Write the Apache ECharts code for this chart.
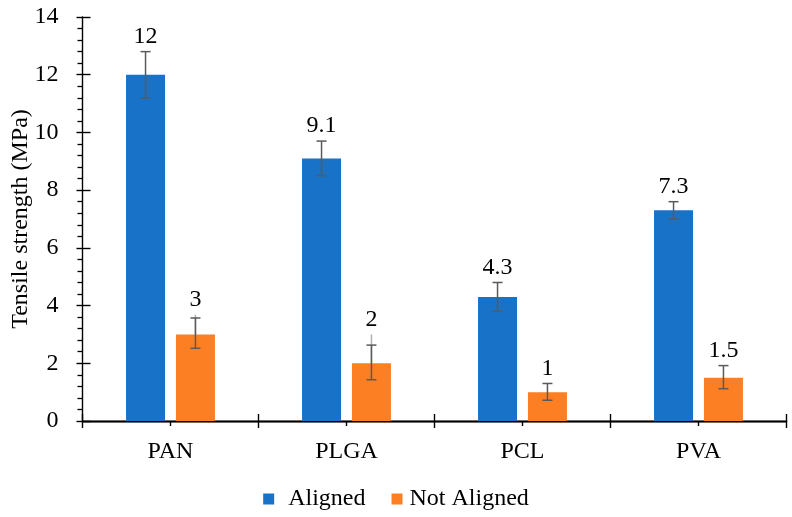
<!DOCTYPE html>
<html>
<head>
<meta charset="utf-8">
<script src="https://cdn.jsdelivr.net/npm/echarts@6/dist/echarts.min.js"></script>
<style>html,body{margin:0;padding:0;background:#fff}#c{width:792px;height:517px}</style>
</head>
<body>
<div id="c"></div>
<script>
const categories = ['PAN', 'PLGA', 'PCL', 'PVA'];
const aligned = [12, 9.1, 4.3, 7.3];
const notAligned = [3, 2, 1, 1.5];
const alignedErrLow = [0.8, 0.6, 0.5, 0.3];
const alignedErrHigh = [0.8, 0.6, 0.5, 0.3];
const notAlignedErrLow = [0.48, 0.57, 0.28, 0.38];
const notAlignedErrHigh = [0.57, 0.63, 0.3, 0.42];
const notAlignedTailTop = [3.68, 3.0, null, null];
const yTicks = [0, 2, 4, 6, 8, 10, 12, 14];

const FONT = '"Liberation Serif", "Times New Roman", serif';
const FS = 24;
const BLUE = '#1872C8';
const ORANGE = '#FD7F23';

function errData(vals, lo, hi, tail) {
  return vals.map((v, i) => [i, v, v - lo[i], v + hi[i], tail && tail[i] != null ? tail[i] : v + hi[i]]);
}

function errRender(offsetFrac) {
  return function (params, api) {
    const cat = api.value(0);
    const catW = api.size([1, 0])[0];
    const x = api.coord([cat, 0])[0] + offsetFrac * catW;
    const yv = api.coord([cat, api.value(1)])[1];
    const yLo = api.coord([cat, api.value(2)])[1];
    const yHi = api.coord([cat, api.value(3)])[1];
    const yTail = api.coord([cat, api.value(4)])[1];
    const cap = 5;
    const dark = '#5a5a5a';
    const children = [];
    if (yTail < yHi - 0.5) {
      children.push({type: 'line', shape: {x1: x, y1: yTail, x2: x, y2: yv}, style: {stroke: '#b0b0b0', lineWidth: 1.5}});
    }
    children.push({type: 'line', shape: {x1: x, y1: yHi, x2: x, y2: yLo}, style: {stroke: dark, lineWidth: 1.5}});
    children.push({type: 'line', shape: {x1: x - cap, y1: yHi, x2: x + cap, y2: yHi}, style: {stroke: dark, lineWidth: 1.5}});
    children.push({type: 'line', shape: {x1: x - cap, y1: yLo, x2: x + cap, y2: yLo}, style: {stroke: dark, lineWidth: 1.5}});
    const top = Math.min(yHi, yTail);
    children.push({type: 'text', x: x, y: top - 3, style: {text: String(api.value(1)), fill: '#000', font: FS + 'px ' + FONT, textAlign: 'center', textVerticalAlign: 'bottom'}});
    return {type: 'group', children: children};
  };
}

const chart = echarts.init(document.getElementById('c'));
const baseX = {
  type: 'category', data: categories, boundaryGap: true, position: 'bottom',
  axisLine: {show: true, lineStyle: {color: '#000', width: 1.4}}
};
chart.setOption({
  animation: false,
  backgroundColor: '#fff',
  grid: {left: 82.5, right: 5.5, top: 17, bottom: 96, containLabel: false, outerBoundsMode: 'none'},
  legend: {
    data: ['Aligned', 'Not Aligned'], left: 'center', top: 482,
    icon: 'rect', itemWidth: 11, itemHeight: 11, itemGap: 26,
    formatter: function (n) { return n === 'Aligned' ? '{a|' + n + '}' : '{b|' + n + '}'; },
    textStyle: {
      fontFamily: FONT, fontSize: FS, color: '#000',
      rich: {
        a: {fontFamily: FONT, fontSize: FS, color: '#000', padding: [0, 0, 0, 9]},
        b: {fontFamily: FONT, fontSize: FS, color: '#000', padding: [0, 0, 0, 2]}
      }
    }
  },
  xAxis: [
    Object.assign({}, baseX, {
      axisTick: {show: true, alignWithLabel: false, length: 7, lineStyle: {color: '#000', width: 1.4}},
      axisLabel: {show: true, fontFamily: FONT, fontSize: FS, color: '#000', margin: 19}
    }),
    Object.assign({}, baseX, {
      axisTick: {show: true, inside: true, alignWithLabel: false, length: 7, lineStyle: {color: '#000', width: 1.4}},
      axisLabel: {show: false}
    }),
    Object.assign({}, baseX, {
      axisTick: {show: true, alignWithLabel: true, length: 5, lineStyle: {color: '#000', width: 1.4}},
      axisLabel: {show: false}
    })
  ],
  yAxis: [
    {
      type: 'value', min: yTicks[0], max: yTicks[yTicks.length - 1], interval: 2, position: 'left',
      name: 'Tensile strength (MPa)', nameLocation: 'middle', nameGap: 50, nameMoveOverlap: false,
      nameTextStyle: {fontFamily: FONT, fontSize: FS, color: '#000'},
      axisLine: {show: true, lineStyle: {color: '#000', width: 1.4}},
      axisTick: {show: true, length: 6, lineStyle: {color: '#000', width: 1.4}},
      minorTick: {show: true, splitNumber: 5, length: 5, lineStyle: {color: '#000', width: 1.3}},
      splitLine: {show: false},
      axisLabel: {fontFamily: FONT, fontSize: FS, color: '#000', margin: 24}
    },
    {
      type: 'value', min: yTicks[0], max: yTicks[yTicks.length - 1], interval: 2, position: 'left',
      axisLine: {show: false},
      axisTick: {show: true, inside: true, length: 8, lineStyle: {color: '#000', width: 1.4}},
      splitLine: {show: false}, axisLabel: {show: false}
    }
  ],
  series: [
    {name: 'Aligned', type: 'bar', data: aligned, barWidth: 39, barGap: '28%', itemStyle: {color: BLUE}},
    {name: 'Not Aligned', type: 'bar', data: notAligned, barWidth: 39, barGap: '28%', itemStyle: {color: ORANGE}},
    {type: 'custom', renderItem: errRender(-25 / 176.3), data: errData(aligned, alignedErrLow, alignedErrHigh, null), encode: {x: 0, y: 1}, z: 5, silent: true},
    {type: 'custom', renderItem: errRender(25 / 176.3), data: errData(notAligned, notAlignedErrLow, notAlignedErrHigh, notAlignedTailTop), encode: {x: 0, y: 1}, z: 5, silent: true}
  ]
});
</script>
</body>
</html>
